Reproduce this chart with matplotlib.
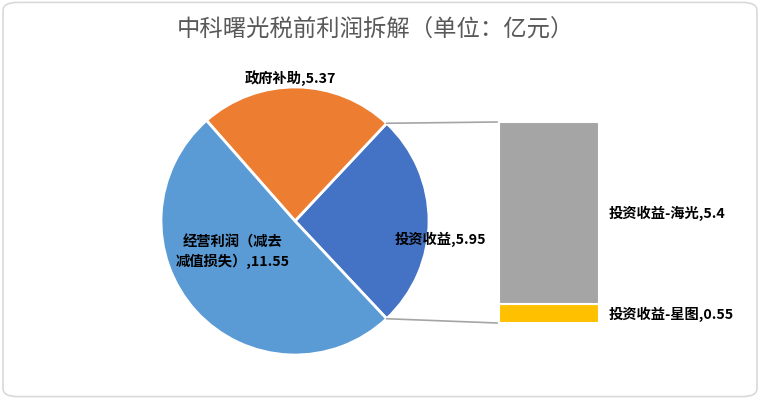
import numpy as np
import matplotlib
matplotlib.use("Agg")
import matplotlib.pyplot as plt
from matplotlib.patches import FancyBboxPatch

plt.rcParams['font.family'] = ['Noto Sans CJK SC', 'DejaVu Sans']

# 饼图数据（逆时针顺序）
pie_labels = ['投资收益', '政府补助', '经营利润（减去\n减值损失）']
pie_values = [5.95, 5.37, 11.55]
pie_colors = ['#4472C4', '#ED7D31', '#5B9BD5']

# 投资收益拆分
bar_labels = ['投资收益-星图', '投资收益-海光']
bar_values = [0.55, 5.4]
bar_colors = ['#FFC000', '#A5A5A5']

W, H = 760, 399
fig = plt.figure(figsize=(W / 100, H / 100), dpi=100)
ax = fig.add_axes([0, 0, 1, 1])
ax.set_aspect('equal')

# 外框
fig.patches.append(FancyBboxPatch((0.004, 0.006), 0.992, 0.988,
                                  boxstyle='round,pad=0,rounding_size=0.02',
                                  transform=fig.transFigure, fc='white',
                                  ec='#D9D9D9', lw=1.2, zorder=-10))

cx, cy, r = 295, 178, 134
total = sum(pie_values)
start = -pie_values[0] / total * 360 / 2
wedges, _ = ax.pie(pie_values, colors=pie_colors, startangle=start,
                   counterclock=True, center=(cx, cy), radius=r,
                   wedgeprops=dict(edgecolor='white', linewidth=2),
                   frame=True)
ax.set_xlim(0, W)
ax.set_ylim(0, H)
ax.axis('off')

# 右侧堆叠柱
bx, bw = 549, 100
bar_bottom, bar_top = 76, 277
scale = (bar_top - bar_bottom) / sum(bar_values)
bottom = bar_bottom
for v, c in zip(bar_values, bar_colors):
    ax.bar(bx, v * scale, width=bw, bottom=bottom, color=c,
           edgecolor='white', linewidth=1.5)
    bottom += v * scale

# 连接线
half = pie_values[0] / total * 360 / 2
for ang, yb in [(half, bar_top), (-half, bar_bottom)]:
    px = cx + r * np.cos(np.radians(ang))
    py = cy + r * np.sin(np.radians(ang))
    ax.plot([px, bx - bw / 2 - 2], [py, yb], color='#A5A5A5', lw=1.2)

lab_kw = dict(fontsize=10.3, fontweight='bold', color='black')
ax.text(440, H - 239, f'{pie_labels[0]},{pie_values[0]}', ha='center', va='center', **lab_kw)
ax.text(290, H - 78, f'{pie_labels[1]},{pie_values[1]}', ha='center', va='center', **lab_kw)
ax.text(233, H - 252, '经营利润（减去\n减值损失）,' + f'{pie_values[2]}', ha='center',
        va='center', linespacing=1.3, **lab_kw)
ax.text(609, H - 213, f'{bar_labels[1]},{bar_values[1]}', ha='left', va='center', **lab_kw)
ax.text(609, H - 314, f'{bar_labels[0]},{bar_values[0]}', ha='left', va='center', **lab_kw)

ax.text(W / 2 - 5, H - 30, '中科曙光税前利润拆解（单位：亿元）', ha='center', va='center',
        fontsize=16.8, color='#595959')

fig.savefig('out.png', dpi=100)
